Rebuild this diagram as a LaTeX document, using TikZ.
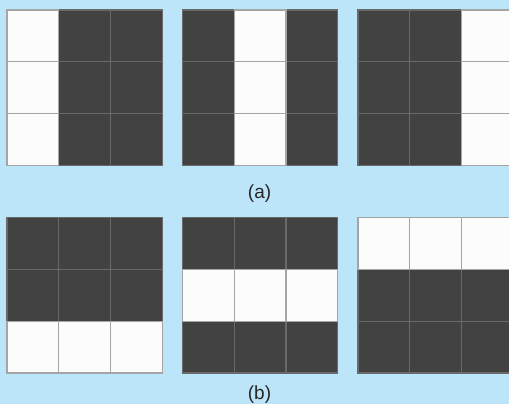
\documentclass[tikz,border=0pt]{standalone}
\usepackage{fontspec}
\setmainfont{Liberation Sans}
\definecolor{bgblue}{RGB}{188,229,249}
\definecolor{darkfill}{RGB}{66,66,66}
\definecolor{darkline}{RGB}{105,105,105}
\definecolor{whitefill}{RGB}{252,252,252}
\definecolor{whiteline}{RGB}{165,165,165}
\newcommand\mygrid[4]{%
  \foreach \r in {0,1,2}{\foreach \c in {0,1,2}{
    \filldraw[darkcell] ({#1+\c*51.77},{#2+\r*51.77}) rectangle ++(51.77,51.77);
  }}
  \foreach \r in {0,1,2}{\foreach \c in {0,1,2}{
    \ifnum#3=0 \let\k\c \else \let\k\r \fi
    \ifnum\k=#4
      \filldraw[whitecell] ({#1+\c*51.77},{#2+\r*51.77}) rectangle ++(51.77,51.77);
    \fi
  }}
}
\begin{document}
\begin{tikzpicture}[x=1pt,y=-1pt,
  darkcell/.style={fill=darkfill,draw=darkline,line width=1.2pt},
  whitecell/.style={fill=whitefill,draw=whiteline,line width=1.2pt},
  lbl/.style={font=\fontsize{19}{22}\selectfont,text=black!85,inner sep=0pt}]
\fill[bgblue] (0,0) rectangle (509,404);
\useasboundingbox (0,0) rectangle (509,404);
\mygrid{7}{10}{0}{0}
\mygrid{182.5}{10}{0}{1}
\mygrid{358}{10}{0}{2}
\mygrid{7}{217.7}{1}{2}
\mygrid{182.5}{217.7}{1}{1}
\mygrid{358}{217.7}{1}{0}
\node[lbl] (la) at (259.6,193.4) {(a)};
\node[lbl] (lb) at (259.5,395) {(b)};
\end{tikzpicture}
\end{document}
